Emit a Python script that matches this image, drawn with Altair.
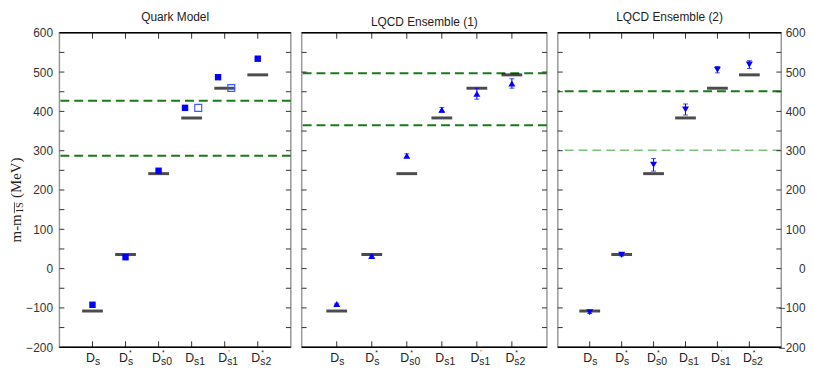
import altair as alt
import pandas as pd

# ---------------- data ----------------
positions = [1, 2, 3, 4, 5, 6]
cat_main = ["D", "D", "D", "D", "D", "D"]
cat_subs = ["s", "s", "s0", "s1", "s1", "s2"]
cat_sups = ["", "*", "*", "", "'", "*"]
expt = [-107.9, 35.9, 241.6, 383.3, 458.9, 492.9]

qm_filled = [-92, 29, 249, 409, 487, 534]
qm_filled_shift = [0, 0, 0, -0.2, -0.2, 0]
qm_open_pos = [4, 5]
qm_open = [409, 459.5]

l1_vals = [-90, 32, 287, 404, 445, 471]
l1_err = [2, 3, 5, 6, 14, 12]
l2_vals = [-111, 35, 264, 405, 506, 519]
l2_err = [3, 3, 16, 14, 8, 10]

qm_thr = [287, 427]
l1_thr = [365, 497]
l2_thr_dark = [451]
l2_thr_light = [301]

y_minor = list(range(-150, 600, 50))
y_labels = list(range(-200, 700, 100))
titles = ["Quark Model", "LQCD Ensemble (1)", "LQCD Ensemble (2)"]

# ---------------- layout ----------------
H = 318
WIDTHS = [234, 248, 226]
SANS = "Liberation Sans"
SERIF = "Liberation Serif"
BLUE = "#0000ff"

df_cat = pd.DataFrame({"pos": positions, "main": cat_main, "sub": cat_subs,
                       "sup": cat_sups, "expt": expt})
df_y = pd.DataFrame({"v": y_minor})
one = pd.DataFrame({"a": [0]})

xs = alt.Scale(domain=[0, 7], nice=False, zero=False)
ys = alt.Scale(domain=[-200, 600], nice=False, zero=False)


def make_axis(orient):
    if orient is None:
        return None
    if orient == "left":
        return alt.Axis(orient="left", values=y_labels, ticks=False, domain=False,
                        grid=False, labelPadding=7, labelFontSize=12, labelFont=SANS,
                        labelColor="#333", title=None)
    return alt.Axis(orient="right", values=y_labels, ticks=False, domain=False,
                    grid=False, labelPadding=24, labelAlign="right", labelFontSize=12,
                    labelFont=SANS, labelColor="#333", title=None)


def panel(idx, w, marker_layers_fn, thr_dark, thr_light, orient, extra=None):
    yaxis = make_axis(orient)

    def X(f):
        return alt.X(f, type="quantitative", scale=xs, axis=None)

    def Y(f):
        return alt.Y(f, type="quantitative", scale=ys, axis=yaxis)

    layers = []
    if thr_dark:
        layers.append(alt.Chart(pd.DataFrame({"t": thr_dark})).mark_rule(
            color="#1a7a1a", strokeWidth=2, strokeDash=[9, 5]).encode(y=Y("t")))
    if thr_light:
        layers.append(alt.Chart(pd.DataFrame({"t": thr_light})).mark_rule(
            color="#7dc07d", strokeWidth=1.6, strokeDash=[9, 5]).encode(y=Y("t")))
    layers.append(alt.Chart(df_cat).mark_tick(
        orient="horizontal", size=21, thickness=3, color="#000").encode(
        x=X("pos"), y=Y("expt")))
    layers += marker_layers_fn(X, Y)
    layers.append(alt.Chart(df_y).mark_rule(color="#333", strokeWidth=1).encode(
        y=Y("v"), x=alt.value(0), x2=alt.value(5)))
    layers.append(alt.Chart(df_y).mark_rule(color="#333", strokeWidth=1).encode(
        y=Y("v"), x=alt.value(w - 5), x2=alt.value(w)))
    layers.append(alt.Chart(df_cat).mark_rule(color="#333", strokeWidth=1).encode(
        x=X("pos"), y=alt.value(0), y2=alt.value(6)))
    layers.append(alt.Chart(df_cat).mark_rule(color="#333", strokeWidth=1).encode(
        x=X("pos"), y=alt.value(H - 6), y2=alt.value(H)))
    layers.append(alt.Chart(one).mark_rule(color="black", strokeWidth=1.5).encode(
        x=alt.value(0), x2=alt.value(w), y=alt.value(0)))
    layers.append(alt.Chart(one).mark_rule(color="black", strokeWidth=1.5).encode(
        x=alt.value(0), x2=alt.value(w), y=alt.value(H)))
    layers.append(alt.Chart(df_cat).mark_text(
        align="right", baseline="alphabetic", fontSize=12.5, font=SANS, dx=2.5,
        color="#222").encode(x=X("pos"), y=alt.value(H + 15), text="main:N"))
    layers.append(alt.Chart(df_cat).mark_text(
        align="left", baseline="alphabetic", fontSize=10.5, font=SANS, dx=2.5,
        color="#222").encode(x=X("pos"), y=alt.value(H + 18), text="sub:N"))
    layers.append(alt.Chart(df_cat).mark_text(
        align="left", baseline="alphabetic", fontSize=7, font=SANS, dx=3.5,
        color="#222").encode(x=X("pos"), y=alt.value(H + 8), text="sup:N"))
    if extra:
        layers += extra
    return alt.layer(*layers).properties(
        width=w, height=H,
        title=alt.TitleParams(titles[idx], fontSize=12, font=SANS,
                              fontWeight="normal", offset=3, color="#222",
                              anchor="middle"))


def qm_markers(X, Y):
    d1 = pd.DataFrame({"pos": positions, "shift": qm_filled_shift, "v": qm_filled})
    d2 = pd.DataFrame({"pos": qm_open_pos, "v": qm_open})
    return [
        alt.Chart(d1).transform_calculate(px="datum.pos + datum.shift").mark_point(
            shape="square", filled=True, size=42, color=BLUE, opacity=1).encode(
            x=X("px:Q"), y=Y("v")),
        alt.Chart(d2).transform_calculate(px="datum.pos + 0.2").mark_point(
            shape="square", filled=False, size=49, color="#3a5cff",
            strokeWidth=1.2, opacity=1).encode(x=X("px:Q"), y=Y("v")),
    ]


def lqcd_markers(vals, errs, shape):
    def fn(X, Y):
        d = pd.DataFrame({"pos": positions, "v": vals, "e": errs})
        base = alt.Chart(d).transform_calculate(lo="datum.v - datum.e",
                                                hi="datum.v + datum.e")
        return [
            base.mark_rule(color=BLUE, strokeWidth=1).encode(
                x=X("pos"), y=Y("lo:Q"), y2=alt.Y2("hi:Q")),
            base.mark_tick(orient="horizontal", size=5, thickness=1,
                           color=BLUE).encode(x=X("pos"), y=Y("lo:Q")),
            base.mark_tick(orient="horizontal", size=5, thickness=1,
                           color=BLUE).encode(x=X("pos"), y=Y("hi:Q")),
            base.mark_point(shape=shape, filled=True, size=50, color=BLUE,
                            opacity=1).encode(x=X("pos"), y=Y("v")),
        ]
    return fn


# y-axis title drawn as text (m - m with overlined subscript 1S)
TX = -39
ytitle = [
    alt.Chart(one).mark_text(text="m-m", angle=270, align="left",
                             baseline="alphabetic", font=SERIF, fontSize=15,
                             color="#222").encode(x=alt.value(TX), y=alt.value(212)),
    alt.Chart(one).mark_text(text="1S", angle=270, align="center",
                             baseline="alphabetic", font=SERIF, fontSize=10.5,
                             color="#222").encode(x=alt.value(TX + 2), y=alt.value(177)),
    alt.Chart(one).mark_rule(color="#222", strokeWidth=0.8).encode(
        x=alt.value(TX - 6.5), y=alt.value(182.5), y2=alt.value(171.5)),
    alt.Chart(one).mark_text(text="(MeV)", angle=270, align="left",
                             baseline="alphabetic", font=SERIF, fontSize=15,
                             color="#222").encode(x=alt.value(TX), y=alt.value(167)),
]

p1 = panel(0, WIDTHS[0], qm_markers, qm_thr, None, "left", ytitle)
p2 = panel(1, WIDTHS[1], lqcd_markers(l1_vals, l1_err, "triangle-up"), l1_thr, None, None)
p3 = panel(2, WIDTHS[2], lqcd_markers(l2_vals, l2_err, "triangle-down"),
           l2_thr_dark, l2_thr_light, "right")

chart = alt.hconcat(p1, p2, p3, spacing=7).configure_view(
    stroke="#999", strokeWidth=1.5).properties(
    padding={"left": 0, "top": 0, "right": 0, "bottom": 0})

chart.save("out.html", embed_options={"renderer": "svg", "actions": False})
